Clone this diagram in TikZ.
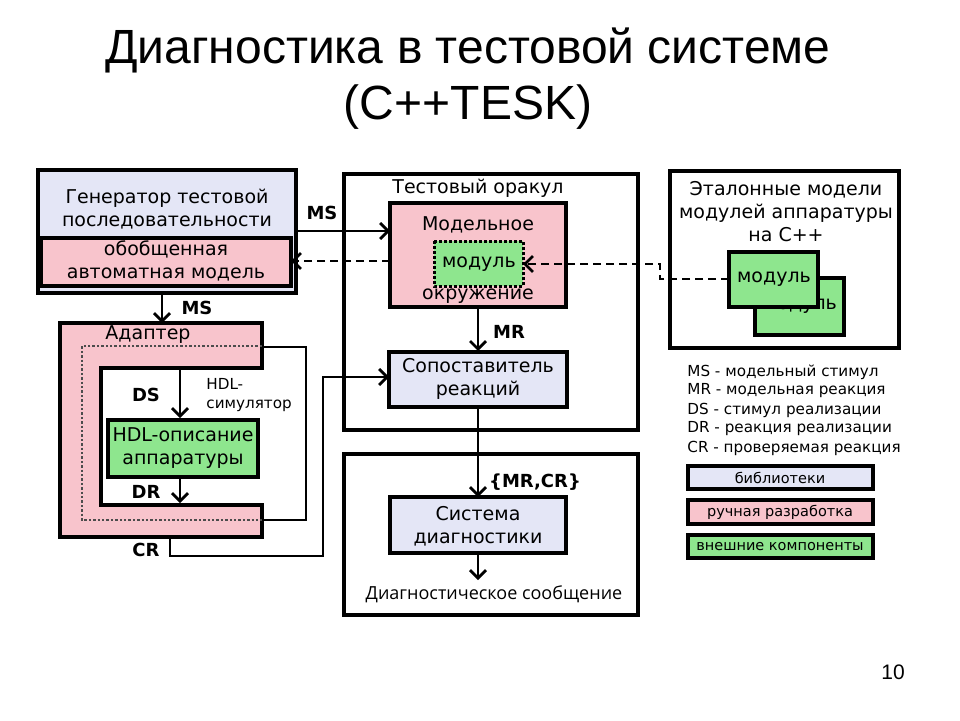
\documentclass[tikz,border=0pt]{standalone}
\usepackage{fontspec}
\setmainfont{DejaVu Sans}
\newfontfamily\titlef{Liberation Sans}
\newfontfamily\openf{Open Sans}
\usetikzlibrary{arrows.meta}
\definecolor{lav}{HTML}{E4E6F6}
\definecolor{pnk}{HTML}{F8C4CC}
\definecolor{grn}{HTML}{8EE68E}
\begin{document}
\begin{tikzpicture}[x=1pt,y=-1pt,
  line width=2.8pt,
  box/.style={draw,line width=3.2pt},
  txt/.style={font=\fontsize{19}{23}\selectfont,align=center,inner sep=0},
  lab/.style={font=\fontsize{18}{21}\selectfont\bfseries,inner sep=0},
  leg/.style={font=\fontsize{15.2}{19}\selectfont,anchor=west,inner sep=0},
  arr/.style={-{Straight Barb[length=8pt,width=16pt,line width=2.8pt]}},
  dsh/.style={dash pattern=on 8pt off 5pt}]
\useasboundingbox (0,0) rectangle (960,720);
\fill[white] (0,0) rectangle (960,720);
% title
\node[font=\titlef\fontsize{48}{52}\selectfont] (t1) at (468,50) {Диагностика в тестовой системе};
\node[font=\titlef\fontsize{48}{52}\selectfont] (t2) at (468,107) {(C++TESK)};
% generator
\draw[box,fill=lav] (38,170) rectangle (296,293);
\node[txt] (gen) at (167,209) {Генератор тестовой\\последовательности};
\draw[box,fill=pnk] (41,238) rectangle (291,286);
\node[txt] (gam) at (166,261) {обобщенная\\автоматная модель};
\coordinate (genB) at (162,293);
\coordinate (genR) at (296,231);
\coordinate (genD) at (291,261);
% adapter
\fill[pnk] (60,323) -- (262,323) -- (262,368) -- (101,368) -- (101,505) -- (262,505) -- (262,537) -- (60,537) -- cycle;
\draw[line width=3.2pt] (60,323) -- (262,323) -- (262,368) -- (101,368) -- (101,505) -- (262,505) -- (262,537) -- (60,537) -- cycle;
\draw[line width=2.4pt,dotted,gray!60!black] (262,346) -- (82,346) -- (82,520) -- (262,520);
\draw (262,347) -- (306,347) -- (306,520) -- (262,520);
\node[txt] (ad) at (148,335) {Адаптер};
\coordinate (adT) at (162,323);
\draw[arr] (genB) -- (adT);
\node[lab] at (197,308) {MS};
\draw[box,fill=grn] (108,420) rectangle (258,477);
\node[txt] (hdl) at (183,448) {HDL-описание\\аппаратуры};
\coordinate (dsT) at (180,368);
\coordinate (drB) at (180,503);
\draw[arr] (dsT) -- (180,418);
\node[lab] at (146,395) {DS};
\node[leg,align=left] at (205,395) {HDL-\\симулятор};
\draw[arr] (180,477) -- (drB);
\node[lab] at (146,492) {DR};
\node[lab] at (146,550) {CR};
% oracle
\draw[box] (344,174) rectangle (638,430);
\node[txt] at (478,188) {Тестовый оракул};
\draw[box,fill=pnk] (390,203) rectangle (566,307);
\node[txt] at (478,225) {Модельное};
\node[txt] at (478,296) {окружение};
\draw[line width=3pt,dotted,fill=grn] (434,241) rectangle (523,286);
\node[txt] (mod) at (479,264) {модуль};
\draw[arr] (genR) -- (390,231);
\node[lab] at (322,213) {MS};
\draw[arr,dsh] (390,261) -- (genD);
\draw[arr] (478,307) -- (478,351);
\node[lab] at (509,332) {MR};
\draw[box,fill=lav] (389,352) rectangle (567,407);
\node[txt] (cmp) at (478,379) {Сопоставитель\\реакций};
\draw[arr] (170,537) -- (170,556) -- (323,556) -- (323,377) -- (389,377);
% diagnostics
\draw[box] (344,454) rectangle (638,615);
\draw[box,fill=lav] (390,497) rectangle (566,553);
\node[txt] (dia) at (478,526) {Система\\диагностики};
\draw[arr] (478,407) -- (478,497);
\node[lab] at (535,482) {\{MR,CR\}};
\draw[arr] (478,553) -- (478,580);
\node[font=\openf\fontsize{18}{21}\selectfont] at (494,594) {Диагностическое сообщение};
% reference models
\draw[box] (670,171) rectangle (899,348);
\node[txt] at (786,212) {Эталонные модели\\модулей аппаратуры\\на С++};
\draw[box,fill=grn] (755,278) rectangle (844,335);
\node[txt] at (800,306) {модуль};
\draw[box,fill=grn] (729,252) rectangle (818,307);
\node[txt] (m1) at (774,279) {модуль};
\draw[arr,dsh] (729,279) -- (660,279) -- (660,264) -- (523,264);
% legend
\node[leg] at (686,372) {MS - модельный стимул};
\node[leg] at (686,391) {MR - модельная реакция};
\node[leg] at (686,410) {DS - стимул реализации};
\node[leg] at (686,429) {DR - реакция реализации};
\node[leg] at (686,448) {CR - проверяемая реакция};
\draw[box,fill=lav] (688,466) rectangle (873,489);
\node[inner sep=0,font=\fontsize{14.5}{18}\selectfont] at (780,478) {библиотеки};
\draw[box,fill=pnk] (688,500) rectangle (873,524);
\node[inner sep=0,font=\fontsize{14.5}{18}\selectfont] at (780,512) {ручная разработка};
\draw[box,fill=grn] (688,535) rectangle (873,558);
\node[inner sep=0,font=\fontsize{14.5}{18}\selectfont] at (780,547) {внешние компоненты};
\node[font=\titlef\fontsize{21}{24}\selectfont] at (893,672) {10};
\end{tikzpicture}
\end{document}
